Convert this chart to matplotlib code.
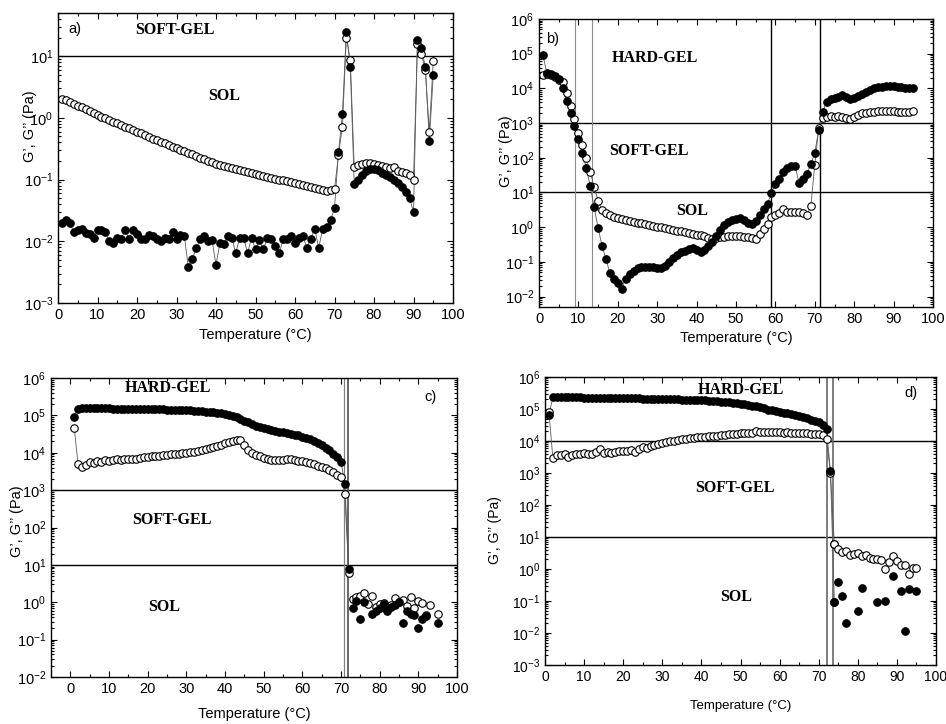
"""Rheology of gels: G' (filled) and G'' (open) vs temperature, four samples."""

import matplotlib.pyplot as plt
import numpy as np

plt.rcParams['font.family'] = ['Liberation Sans', 'DejaVu Sans']
plt.rcParams['mathtext.fontset'] = 'custom'
plt.rcParams['mathtext.rm'] = 'Liberation Sans'
plt.rcParams['mathtext.it'] = 'Liberation Sans'

# ---------------------------------------------------------------- data
# panel a) -- temperatures 1..95 C
temp_a = list(range(1, 96))
g1_a = [0.020, 0.022, 0.020, 0.014, 0.015, 0.016, 0.0135, 0.013, 0.0115, 0.015,
        0.015, 0.014, 0.010, 0.0093, 0.0115, 0.011, 0.015, 0.011, 0.015, 0.013,
        0.0107, 0.0107, 0.0125, 0.012, 0.011, 0.010, 0.0115, 0.0107, 0.014, 0.011,
        0.0125, 0.012, 0.0038, 0.0051, 0.0078, 0.0107, 0.012, 0.010, 0.0103, 0.0042,
        0.0093, 0.009, 0.012, 0.0115, 0.0064, 0.0115, 0.0115, 0.0064, 0.0115, 0.0074,
        0.0103, 0.0074, 0.0115, 0.0107, 0.0085, 0.0064, 0.0107, 0.0107, 0.012, 0.0093,
        0.0115, 0.012, 0.0078, 0.011, 0.016, 0.0078, 0.016, 0.017, 0.022, 0.034,
        0.275, 1.14, 25.0, 6.7, 0.085, 0.098, 0.12, 0.14, 0.15, 0.15,
        0.145, 0.13, 0.12, 0.11, 0.10, 0.087, 0.075, 0.063, 0.05, 0.030,
        18.6, 13.3, 6.7, 0.42, 4.9]
g2_a = [2.05, 1.93, 1.80, 1.68, 1.58, 1.48, 1.38, 1.29, 1.20, 1.12,
        1.05, 0.99, 0.93, 0.87, 0.82, 0.77, 0.72, 0.68, 0.63, 0.59,
        0.56, 0.52, 0.49, 0.46, 0.44, 0.41, 0.39, 0.36, 0.34, 0.32,
        0.30, 0.285, 0.27, 0.255, 0.24, 0.225, 0.212, 0.20, 0.19, 0.18,
        0.173, 0.167, 0.161, 0.155, 0.149, 0.144, 0.139, 0.134, 0.129, 0.124,
        0.120, 0.116, 0.112, 0.108, 0.104, 0.100, 0.097, 0.094, 0.091, 0.088,
        0.085, 0.082, 0.079, 0.076, 0.073, 0.070, 0.067, 0.066, 0.068, 0.070,
        0.25, 0.72, 20.0, 8.6, 0.16, 0.17, 0.18, 0.185, 0.185, 0.18,
        0.175, 0.165, 0.16, 0.155, 0.157, 0.14, 0.135, 0.13, 0.12, 0.10,
        16.0, 11.0, 5.9, 0.6, 8.3]

# panel b) -- temperatures 1..95 C
temp_b = list(range(1, 96))
g1_b = [90000, 28000, 26000, 23000, 19000, 10000, 4300, 1950, 850, 340,
        138, 52, 15, 3.7, 0.95, 0.29, 0.12, 0.047, 0.033, 0.025,
        0.017, 0.033, 0.045, 0.055, 0.065, 0.072, 0.072, 0.070, 0.070, 0.068,
        0.065, 0.075, 0.100, 0.126, 0.16, 0.19, 0.21, 0.23, 0.245, 0.22,
        0.195, 0.22, 0.28, 0.38, 0.55, 0.85, 1.15, 1.4, 1.6, 1.7,
        1.8, 1.6, 1.3, 1.2, 1.5, 2.2, 3.3, 4.8, 9.5, 18,
        25, 40, 52, 58, 58, 19, 25, 35, 66, 140,
        650, 2100, 4100, 4800, 5300, 5800, 6300, 5500, 4800, 5200,
        6000, 7000, 8000, 9000, 10000, 10800, 11300, 11700, 11800, 11700,
        11200, 10800, 10400, 10000, 10300]
g2_b = [24000, 26000, 24000, 21000, 18000, 15000, 7400, 3100, 1300, 520,
        230, 96, 39, 14.5, 5.7, 3.1, 2.5, 2.2, 2.0, 1.85,
        1.72, 1.62, 1.52, 1.43, 1.35, 1.28, 1.21, 1.15, 1.09, 1.03,
        0.98, 0.93, 0.88, 0.84, 0.80, 0.76, 0.72, 0.68, 0.65, 0.61,
        0.58, 0.55, 0.50, 0.47, 0.50, 0.52, 0.53, 0.54, 0.55, 0.55,
        0.54, 0.53, 0.52, 0.48, 0.45, 0.62, 0.88, 1.25, 1.9, 2.2,
        2.5, 3.4, 2.8, 2.7, 2.7, 2.7, 2.5, 2.2, 4.1, 64,
        700, 1400, 1500, 1550, 1500, 1550, 1500, 1400, 1300, 1500,
        1700, 1900, 2000, 2100, 2150, 2200, 2200, 2250, 2200, 2200,
        2150, 2100, 2100, 2100, 2300]

# panel c) -- connected part 1..72 C, scattered part after the transition
temp_c = list(range(1, 73))
g1_c = [93000, 150000, 155000, 155000, 155000, 155000, 154000, 154000, 153000, 153000,
        152000, 152000, 151000, 151000, 150000, 150000, 149000, 148000, 148000, 147000,
        146000, 145000, 145000, 144000, 143000, 142000, 141000, 140000, 139000, 138000,
        136000, 134000, 131000, 128000, 126000, 123000, 120000, 117000, 113000, 110000,
        105000, 98000, 90000, 80000, 72000, 65000, 58000, 53000, 49000, 45000,
        42000, 40000, 38000, 36000, 35000, 33000, 32000, 30500, 29000, 27000,
        25000, 23000, 21000, 18500, 16000, 13500, 11500, 9500, 7500, 5800,
        1500, 7.6]
g2_c = [47000, 4900, 4100, 4600, 5700, 5200, 6200, 5700, 6300, 6200,
        6400, 6600, 6400, 6800, 6600, 6900, 7000, 7200, 7500, 7800,
        8000, 8200, 8400, 8600, 8800, 9000, 9200, 9400, 9600, 9800,
        10200, 10700, 11300, 11800, 12500, 13300, 14200, 15300, 16500, 17800,
        19000, 20500, 22000, 22500, 16000, 12000, 10000, 8800, 8000, 7300,
        6800, 6500, 6400, 6400, 6500, 6900, 6700, 6500, 6200, 5900,
        5600, 5200, 4900, 4500, 4200, 3900, 3500, 3000, 2600, 2200,
        800, 6.0]
temp_c_sol = [73, 74, 75, 76, 78, 79, 80, 81, 82, 83, 84, 85, 86, 87, 88, 89, 90, 91, 92, 95]
g1_c_sol = [0.7, 1.1, 0.35, 1.0, 0.5, 0.6, 0.7, 0.9, 0.6, 0.75,
            0.85, 1.0, 0.28, 0.6, 0.5, 0.45, 0.21, 0.35, 0.42, 0.28]
g2_c_sol = [1.2, 1.35, 1.45, 1.75, 1.45, 0.75, 0.9, 0.95, 0.8, 0.85,
            1.3, 1.0, 1.15, 0.8, 1.4, 0.7, 1.1, 0.95, 0.45, 0.48]
temp_c_sol2 = [77, 93]
g2_c_sol2 = [0.9, 0.85]

# panel d) -- connected part 1..74 C, scattered part after the transition
temp_d = list(range(1, 74))
g1_d = [65000, 230000, 232000, 231000, 231000, 230000, 230000, 229000, 229000, 228000,
        227000, 226000, 225000, 224000, 223000, 222000, 221000, 220000, 219000, 218000,
        217000, 216000, 214000, 213000, 212000, 210000, 209000, 208000, 206000, 205000,
        203000, 202000, 200000, 199000, 197000, 196000, 194000, 193000, 191000, 190000,
        186000, 182000, 178000, 174000, 170000, 165000, 160000, 155000, 150000, 145000,
        140000, 135000, 128000, 122000, 113000, 105000, 96000, 90000, 86000, 82000,
        77000, 73000, 69000, 65000, 60000, 56000, 51000, 46000, 42000, 38000,
        32000, 24000, 1170]
g2_d = [80000, 3000, 3700, 3600, 4000, 3200, 3700, 3900, 3800, 4100,
        3900, 4000, 4400, 5600, 4300, 4600, 4200, 4500, 4700, 4900,
        5000, 5300, 4600, 5800, 6500, 6000, 7000, 7500, 8000, 8900,
        9300, 9800, 10300, 10800, 11400, 11800, 12200, 12600, 13000, 13200,
        13600, 14000, 14400, 14800, 15200, 15600, 16000, 16400, 16800, 17200,
        17500, 17800, 18200, 20000, 18600, 18600, 18800, 18600, 18800, 18600,
        18400, 18600, 18300, 18000, 17800, 17600, 17400, 17000, 16500, 16000,
        15800, 11700, 1000]
temp_d_sol = list(range(74, 96))
g2_d_sol = [6.0, 4.2, 3.3, 3.6, 2.8, 3.0, 3.1, 2.6, 2.8, 2.2,
            2.0, 2.0, 1.9, 1.0, 1.7, 2.5, 1.75, 1.3, 1.35, 0.7,
            1.05, 1.1]
temp_d_sol1 = [74, 75, 76, 77, 80, 81, 85, 87, 89, 91, 92, 93, 95]
g1_d_sol = [0.095, 0.39, 0.14, 0.021, 0.049, 0.25, 0.095, 0.10, 0.62, 0.21,
            0.0115, 0.24, 0.21]

# ---------------------------------------------------------------- helpers
MS = 5.4
LINE = dict(color='0.35', lw=0.6, zorder=2)
OPEN = dict(ls='none', marker='o', ms=MS, mfc='white', mec='black', mew=0.8, zorder=3)
FILLED = dict(ls='none', marker='o', ms=MS, mfc='black', mec='black', mew=0.8, zorder=4)
REGION = dict(family=['Liberation Serif', 'DejaVu Serif'], fontweight='bold',
              fontsize=11.5, ha='center', va='center')
YLABEL = 'G\u2019, G\u2019\u2019 (Pa)'
XLABEL = 'Temperature (\u00b0C)'


def style(ax, xlim, ylim, ylab_xy, xlab_y):
    ax.set_yscale('log')
    ax.set_xlim(*xlim)
    ax.set_ylim(*ylim)
    ax.set_xticks(np.arange(0, 101, 10))
    ax.set_xticks(np.arange(0, 101, 5), minor=True)
    ax.tick_params(which='both', direction='in', top=True, right=True,
                   labelsize=10.5, width=0.8)
    ax.tick_params(which='major', length=4)
    ax.tick_params(which='minor', length=2)
    for s in ax.spines.values():
        s.set_linewidth(1.0)
    ax.set_ylabel(YLABEL, fontsize=10.5)
    ax.yaxis.set_label_coords(*ylab_xy)
    ax.set_xlabel(XLABEL, fontsize=10.5)
    ax.xaxis.set_label_coords(0.5, xlab_y)


def series(ax, t, g1, g2, connect=True):
    if connect:
        ax.plot(t, g2, **LINE)
        ax.plot(t, g1, **LINE)
    ax.plot(t, g2, **OPEN)
    ax.plot(t, g1, **FILLED)


W, H = 946, 724
fig = plt.figure(figsize=(W / 100, H / 100), dpi=100)

# ---------------------------------------------------------------- a)
ax = fig.add_axes([58 / W, 1 - 303 / H, 395 / W, 290 / H])
series(ax, temp_a, g1_a, g2_a)
ax.axhline(10, color='black', lw=1.0, zorder=1)
style(ax, (0, 100), (1e-3, 50), (-0.052, 0.61), -0.085)
ax.text(0.025, 0.945, 'a)', transform=ax.transAxes, fontsize=10.5, va='center')
ax.text(0.296, 0.94, 'SOFT-GEL', transform=ax.transAxes, **REGION)
ax.text(0.42, 0.714, 'SOL', transform=ax.transAxes, **REGION)

# ---------------------------------------------------------------- b)
ax = fig.add_axes([539 / W, 1 - 307 / H, 394 / W, 288 / H])
series(ax, temp_b, g1_b, g2_b)
for y in (1e3, 1e1):
    ax.axhline(y, color='black', lw=1.0, zorder=1)
for x in (59, 71.3):
    ax.axvline(x, color='black', lw=1.0, zorder=1)
for x in (9.2, 13.4):
    ax.axvline(x, color='0.55', lw=0.8, zorder=1)
style(ax, (0, 100), (5e-3, 1e6), (-0.066, 0.54), -0.085)
ax.text(0.018, 0.93, 'b)', transform=ax.transAxes, fontsize=10.5, va='center')
ax.text(0.294, 0.865, 'HARD-GEL', transform=ax.transAxes, **REGION)
ax.text(0.28, 0.54, 'SOFT-GEL', transform=ax.transAxes, **REGION)
ax.text(0.39, 0.333, 'SOL', transform=ax.transAxes, **REGION)

# ---------------------------------------------------------------- c)
ax = fig.add_axes([51 / W, 1 - 677 / H, 406 / W, 299 / H])
series(ax, temp_c, g1_c, g2_c)
ax.plot(temp_c_sol, g2_c_sol, **OPEN)
ax.plot(temp_c_sol2, g2_c_sol2, **OPEN)
ax.plot(temp_c_sol, g1_c_sol, **FILLED)
for y in (1e3, 1e1):
    ax.axhline(y, color='black', lw=1.0, zorder=1)
ax.axvline(70.7, color='0.5', lw=0.9, zorder=1)
ax.axvline(71.8, color='0.4', lw=1.4, zorder=1)
style(ax, (-5, 100), (1e-2, 1e6), (-0.066, 0.52), -0.1)
ax.text(0.92, 0.936, 'c)', transform=ax.transAxes, fontsize=10.5, va='center')
ax.text(0.288, 0.967, 'HARD-GEL', transform=ax.transAxes, **REGION)
ax.text(0.298, 0.525, 'SOFT-GEL', transform=ax.transAxes, **REGION)
ax.text(0.28, 0.234, 'SOL', transform=ax.transAxes, **REGION)

# ---------------------------------------------------------------- d)
ax = fig.add_axes([545 / W, 1 - 665 / H, 391 / W, 288 / H])
series(ax, temp_d + [74], g1_d + [g1_d_sol[0]], g2_d + [g2_d_sol[0]])
ax.plot(temp_d_sol, g2_d_sol, **OPEN)
ax.plot(temp_d_sol1, g1_d_sol, **FILLED)
for y in (1e4, 1e1):
    ax.axhline(y, color='black', lw=1.0, zorder=1)
for x in (72.0, 73.6):
    ax.axvline(x, color='0.4', lw=1.2, zorder=1)
style(ax, (0, 100), (1e-3, 1e6), (-0.11, 0.47), -0.12)
ax.xaxis.label.set_fontsize(9.5)
ax.yaxis.label.set_fontsize(10)
ax.tick_params(labelsize=10)
ax.text(0.92, 0.944, 'd)', transform=ax.transAxes, fontsize=10.5, va='center')
ax.text(0.5, 0.955, 'HARD-GEL', transform=ax.transAxes, **REGION)
ax.text(0.486, 0.615, 'SOFT-GEL', transform=ax.transAxes, **REGION)
ax.text(0.488, 0.236, 'SOL', transform=ax.transAxes, **REGION)

fig.savefig('out.png', dpi=100)
plt.close(fig)
